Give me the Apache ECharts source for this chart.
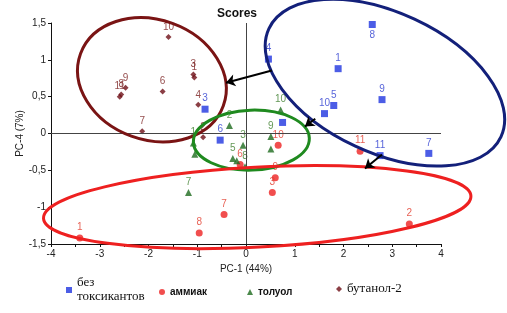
<!DOCTYPE html>
<html lang="ru">
<head>
<meta charset="UTF-8">
<title>Scores</title>
<style>
	body, div {
		margin: 0;
		padding: 0;
	}
	#main {
		width: 507px;
		height: 313px;
	}
</style>
</head>
<body>
<div id="main"></div>
<script src="https://cdn.jsdelivr.net/npm/echarts@6/dist/echarts.min.js"></script>
<script>
// названия групп
var groupNames = ['без токсикантов', 'аммиак', 'толуол', 'бутанол-2'];

// без токсикантов (синие квадраты)
var blueLabels = ['1', '', '3', '4', '5', '6', '7', '8', '9', '10', '11'];
var blueX = [1.89, 0.75, -0.84, 0.46, 1.80, -0.53, 3.75, 2.59, 2.79, 1.61, 2.75];
var blueY = [0.88, 0.15, 0.33, 1.01, 0.38, -0.09, -0.27, 1.48, 0.46, 0.27, -0.30];

// аммиак (красные круги)
var redLabels = ['1', '2', '3', '6', '7', '8', '9', '10', '11'];
var redX = [-3.41, 3.35, 0.54, -0.12, -0.45, -0.96, 0.60, 0.66, 2.34];
var redY = [-1.42, -1.23, -0.80, -0.42, -1.10, -1.35, -0.60, -0.16, -0.24];

// толуол (зелёные треугольники)
var greenLabels = ['1', '', '2', '3', '5', '', '8', '7', '9', '', '10'];
var greenX = [-1.08, -1.05, -0.34, -0.06, -0.27, -0.19, -0.02, -1.18, 0.51, 0.51, 0.71];
var greenY = [-0.13, -0.28, 0.11, -0.16, -0.34, -0.37, -0.45, -0.80, -0.04, -0.21, 0.32];

// бутанол-2 (бордовые ромбы)
var brownLabels = ['1', '2', '3', '4', '6', '7', '8', '9', '10', '11'];
var brownX = [-1.06, -0.88, -1.08, -0.98, -1.71, -2.13, -2.56, -2.47, -1.59, -2.59];
var brownY = [0.76, -0.05, 0.80, 0.39, 0.57, 0.03, 0.53, 0.62, 1.31, 0.50];

// оси
var xMin = -4, xMax = 4, xStep = 1;
var yMin = -1.5, yMax = 1.5, yStep = 0.5;
var yName = 'PC-4 (7%)';

// стрелки между группами
var arrowFrom = [[0.53, 0.855], [1.42, 0.20], [2.79, -0.285]];
var arrowTo = [[-0.41, 0.69], [1.21, 0.095], [2.44, -0.475]];

var colors = ['#1f35e0', '#ee2222', '#1e6b1e', '#6e0f17'];
var labelColors = ['#2a3bd0', '#e23a2a', '#3b7d2b', '#7a2020'];
var symbols = ['rect', 'circle', 'triangle', 'diamond'];
var symbolSizes = [7, 7, 7, 6];

function pack(xs, ys, ls) {
	return xs.map(function (x, i) { return [x, ys[i], ls[i]]; });
}

var groups = [
	pack(blueX, blueY, blueLabels),
	pack(redX, redY, redLabels),
	pack(greenX, greenY, greenLabels),
	pack(brownX, brownY, brownLabels)
];

var myEcharts = echarts.init(document.getElementById('main'));

var series = groups.map(function (data, g) {
	return {
		name: groupNames[g],
		type: 'scatter',
		symbol: symbols[g],
		symbolSize: symbolSizes[g],
		itemStyle: { color: colors[g] },
		z: 3,
		label: {
			show: true,
			position: 'top',
			distance: 2,
			fontSize: 10,
			fontFamily: 'Liberation Sans',
			color: labelColors[g],
			formatter: function (p) { return p.value[2]; }
		},
		data: data.map(function (d) {
			// у синей "8" подпись снизу
			if (g === 0 && d[2] === '8') {
				return { value: d, label: { position: 'bottom' } };
			}
			return d;
		})
	};
});

// нулевые линии
series[0].markLine = {
	silent: true,
	symbol: 'none',
	label: { show: false },
	lineStyle: { color: '#444', width: 1, type: 'solid' },
	data: [{ xAxis: 0 }, { yAxis: 0 }]
};

series.push({
	type: 'lines',
	coordinateSystem: 'cartesian2d',
	z: 20,
	symbol: ['none', 'arrow'],
	symbolSize: 9,
	lineStyle: { color: '#000', width: 2, opacity: 1 },
	data: arrowFrom.map(function (f, i) { return { coords: [f, arrowTo[i]] }; })
});

function legendItem(g, left, top, textStyle) {
	return {
		left: left,
		top: top,
		data: [{ name: groupNames[g], icon: symbols[g] }],
		itemWidth: 6,
		itemHeight: 6,
		itemGap: 0,
		selectedMode: false,
		textStyle: textStyle
	};
}

var serifText = { fontFamily: 'Liberation Serif', fontSize: 13, color: '#111', lineHeight: 14 };
var sansText = { fontFamily: 'Liberation Sans', fontSize: 10, fontWeight: 'bold', color: '#111' };

options = {
	animation: false,
	title: {
		text: 'Scores',
		left: 212,
		top: 3,
		textStyle: { fontFamily: 'Liberation Sans', fontSize: 12, fontWeight: 'bold', color: '#111' }
	},
	grid: { left: 51, right: 66, top: 23, bottom: 69, containLabel: false },
	xAxis: {
		type: 'value',
		min: xMin, max: xMax, interval: xStep,
		name: 'PC-1 (44%)',
		nameLocation: 'middle',
		nameGap: 19,
		nameTextStyle: { fontFamily: 'Liberation Sans', fontSize: 10, color: '#222' },
		axisLine: { onZero: false, lineStyle: { color: '#111', width: 1 } },
		axisTick: { show: true, length: 3, lineStyle: { color: '#111' } },
		minorTick: { show: true, splitNumber: 2, length: 3, lineStyle: { color: '#111' } },
		axisLabel: { fontFamily: 'Liberation Sans', fontSize: 10, color: '#222', margin: 5 },
		splitLine: { show: false }
	},
	yAxis: {
		type: 'value',
		min: yMin, max: yMax, interval: yStep,
		axisLine: { onZero: false, lineStyle: { color: '#111', width: 1 } },
		axisTick: { show: true, length: 3, lineStyle: { color: '#111' } },
		axisLabel: {
			fontFamily: 'Liberation Sans', fontSize: 10, color: '#222', margin: 5,
			formatter: function (v) { return String(v).replace('.', ','); }
		},
		splitLine: { show: false }
	},
	legend: [
		legendItem(0, 61, 271, serifText),
		legendItem(1, 154, 282, sansText),
		legendItem(2, 242, 282, sansText),
		legendItem(3, 331, 277, serifText)
	],
	series: series
};

options.legend[0].formatter = function () { return 'без\nтоксикантов'; };

myEcharts.setOption(options);

// эллипсы групп: центр в единицах осей, радиусы в пикселях
var ellipses = [
	{ c: [-1.93, 0.73], rx: 76, ry: 60, rot: -20, color: '#7a1414' },
	{ c: [2.85, 0.69], rx: 128, ry: 70, rot: -25, color: '#13207a' },
	{ c: [0.11, -0.09], rx: 58, ry: 30, rot: 2, color: '#1f8a1f' },
	{ c: [0.23, -1.0], rx: 214, ry: 40, rot: 3, color: '#ee2020' }
];

var graphics = ellipses.map(function (e) {
	var p = myEcharts.convertToPixel({ gridIndex: 0 }, e.c);
	return {
		type: 'ellipse',
		x: p[0],
		y: p[1],
		rotation: e.rot * Math.PI / 180,
		z: 10,
		silent: true,
		shape: { cx: 0, cy: 0, rx: e.rx, ry: e.ry },
		style: { fill: 'none', stroke: e.color, lineWidth: 3 }
	};
});

// подпись оси Y
var yMid = myEcharts.convertToPixel({ gridIndex: 0 }, [xMin, (yMin + yMax) / 2]);
graphics.push({
	type: 'text',
	x: yMid[0] - 31,
	y: yMid[1],
	rotation: Math.PI / 2,
	silent: true,
	style: {
		text: yName,
		fontFamily: 'Liberation Sans',
		fontSize: 10,
		fill: '#222',
		align: 'center',
		verticalAlign: 'middle'
	}
});

myEcharts.setOption({ graphic: graphics });
</script>
</body>
</html>
